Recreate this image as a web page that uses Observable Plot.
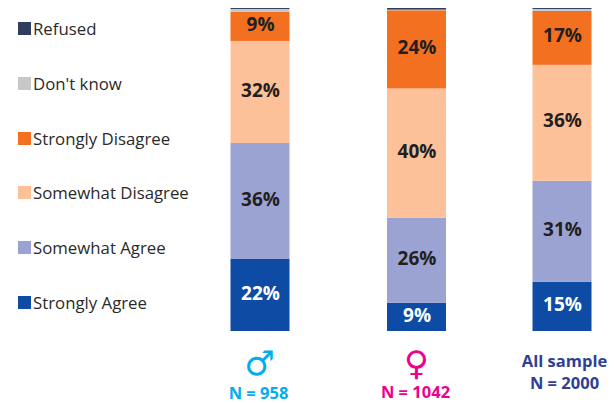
<!DOCTYPE html>
<html>
<head>
<meta charset="utf-8">
<script src="https://cdn.jsdelivr.net/npm/d3@7"></script>
<script src="https://cdn.jsdelivr.net/npm/@observablehq/plot@0.6"></script>
<style>
html,body{margin:0;padding:0;background:#fff}
#wrap{position:relative;width:614px;height:403px;overflow:hidden}
#wrap svg{position:absolute;left:0;top:0;display:block}
.lg{position:absolute;left:18px;display:flex;align-items:center;height:20px;font:16.8px "Open Sans",sans-serif;color:#2a2a2a;white-space:nowrap}
.lg i{display:inline-block;width:13px;height:13px;margin-right:2px}
</style>
</head>
<body>
<div id="wrap"></div>
<script>
const groups = ["Men", "Women", "All sample"];
const categories = ["Strongly Agree", "Somewhat Agree", "Somewhat Disagree", "Strongly Disagree", "Don't know", "Refused"];
const stronglyAgree    = [22.3, 8.7, 15.2];
const somewhatAgree    = [35.9, 26.4, 31.3];
const somewhatDisagree = [31.6, 40.0, 35.9];
const stronglyDisagree = [9.0, 24.2, 16.7];
const dontKnow         = [0.9, 0.2, 0.6];
const refused          = [0.3, 0.5, 0.3];
const series = [stronglyAgree, somewhatAgree, somewhatDisagree, stronglyDisagree, dontKnow, refused];
const colors = ["#0D4BA5", "#9BA3D3", "#FDC199", "#F47021", "#C7C8CA", "#2F3E5C"];
const symbols = ["\u2642", "\u2640", ""];
const sampleLabels = ["N = 958", "N = 1042", "All sample\nN = 2000"];
const labelColors = ["#00AEEF", "#EC008C", "#2E3F95"];
// the middle column sits slightly right of an even spacing in the reference
const columnShift = [-0.5, 5, -0.5];
const symbolDy = [43, 43, 43];
const symbolDx = [-1, -0.5, 0];
const nDx = [-2, -1.5, 2];
const nDy = [67, 66, 57];

const rows = groups.flatMap((g, i) => categories.map((c, j) => ({group: g, cat: c, value: series[j][i]})));
const font = '"Open Sans", sans-serif';

const marks = groups.flatMap((g, i) => {
  const data = rows.filter(d => d.group === g);
  const info = [{group: g, n: sampleLabels[i], sym: symbols[i]}];
  return [
    Plot.barY(data, {x: "group", y: "value", fill: "cat", order: categories, dx: columnShift[i]}),
    Plot.text(data, Plot.stackY({
      x: "group", y: "value", order: categories, dx: columnShift[i], dy: -2,
      text: d => d.value >= 5 ? Math.round(d.value) + "%" : "",
      fill: d => d.cat === "Strongly Agree" ? "#fff" : "#231F20",
      fontSize: 19, fontWeight: 700, fontFamily: font
    })),
    Plot.text(info, {
      x: "group", text: "sym", frameAnchor: "bottom", dx: columnShift[i] + symbolDx[i], dy: symbolDy[i],
      fill: labelColors[i], fontSize: 34, fontFamily: "DejaVu Sans", lineAnchor: "bottom"
    }),
    Plot.text(info, {
      x: "group", text: "n", frameAnchor: "bottom", dx: columnShift[i] + nDx[i], dy: nDy[i],
      fill: labelColors[i], fontSize: 16.5, fontWeight: 700, fontFamily: font,
      lineAnchor: "bottom", lineHeight: 1.28
    })
  ];
});

const chart = Plot.plot({
  width: 614, height: 403,
  marginLeft: 230, marginRight: 22, marginTop: 8, marginBottom: 72,
  style: {background: "transparent", overflow: "visible"},
  x: {domain: groups, paddingInner: 0.6106, paddingOuter: 0, axis: null},
  y: {domain: [0, 100], axis: null},
  color: {domain: categories, range: colors},
  marks
});
const wrap = document.getElementById("wrap");
wrap.appendChild(chart);

const legendTops = {"Refused": 18, "Don't know": 73, "Strongly Disagree": 128, "Somewhat Disagree": 182, "Somewhat Agree": 237, "Strongly Agree": 292};
categories.forEach((c, j) => {
  const row = document.createElement("div");
  row.className = "lg";
  row.style.top = legendTops[c] + "px";
  const sw = document.createElement("i");
  sw.style.background = colors[j];
  row.appendChild(sw);
  row.appendChild(document.createTextNode(c));
  wrap.appendChild(row);
});
</script>
</body>
</html>
